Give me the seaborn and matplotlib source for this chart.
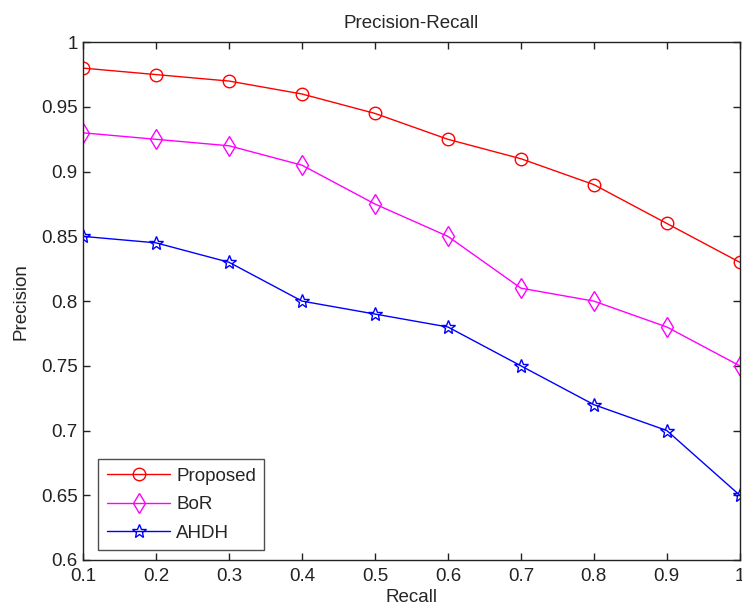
import seaborn as sns
import matplotlib.pyplot as plt
import pandas as pd

recall = [0.1, 0.2, 0.3, 0.4, 0.5, 0.6, 0.7, 0.8, 0.9, 1.0]
proposed = [0.98, 0.975, 0.97, 0.96, 0.945, 0.925, 0.91, 0.89, 0.86, 0.83]
bor = [0.93, 0.925, 0.92, 0.905, 0.875, 0.85, 0.81, 0.80, 0.78, 0.75]
ahdh = [0.85, 0.845, 0.83, 0.80, 0.79, 0.78, 0.75, 0.72, 0.70, 0.65]

df = pd.DataFrame({'Recall': recall, 'Proposed': proposed, 'BoR': bor, 'AHDH': ahdh})

sns.set_style('ticks')
plt.rcParams['font.family'] = ['Liberation Sans', 'DejaVu Sans']

fig = plt.figure(figsize=(7.42, 6.12), dpi=100)
ax = fig.add_axes([0.112, 0.085, 0.885, 0.846])

# method name -> (colour, marker, marker size)
styles = {'Proposed': ('#ff0000', 'o', 9),
          'BoR': ('#ff00ff', 'd', 10),
          'AHDH': ('#0000ff', '*', 10)}

for name, (col, mk, ms) in styles.items():
    sns.lineplot(data=df, x='Recall', y=name, ax=ax, color=col, marker=mk,
                 markersize=ms, markerfacecolor='none', markeredgecolor=col,
                 markeredgewidth=1.0, linewidth=1.0, label=name)

ax.set_xlim(0.1, 1.0)
ax.set_ylim(0.6, 1.0)
ax.set_xticks([0.1, 0.2, 0.3, 0.4, 0.5, 0.6, 0.7, 0.8, 0.9, 1.0])
ax.set_xticklabels(['0.1', '0.2', '0.3', '0.4', '0.5', '0.6', '0.7', '0.8', '0.9', '1'])
ax.set_yticks([0.6, 0.65, 0.7, 0.75, 0.8, 0.85, 0.9, 0.95, 1.0])
ax.set_yticklabels(['0.6', '0.65', '0.7', '0.75', '0.8', '0.85', '0.9', '0.95', '1'])
ax.tick_params(direction='in', length=5, width=1, top=True, right=True,
               labelsize=13.5, colors='#222222')
ax.tick_params(axis='x', pad=6)
ax.tick_params(axis='y', pad=4)
for sp in ax.spines.values():
    sp.set_visible(True)
    sp.set_linewidth(1)
    sp.set_color('#222222')

ax.set_xlabel('Recall', fontsize=13.5, labelpad=3)
ax.set_ylabel('Precision', fontsize=13.5, labelpad=8)
ax.set_title('Precision-Recall', fontsize=13.5, pad=10)

leg = ax.legend(loc='lower left', bbox_to_anchor=(0.023, 0.019), fontsize=13.5,
                frameon=True, fancybox=False, edgecolor='#222222',
                handlelength=3.4, handletextpad=0.3, borderpad=0.45,
                labelspacing=0.6, borderaxespad=0)
leg.get_frame().set_linewidth(1)

fig.savefig('out.png', dpi=100)
